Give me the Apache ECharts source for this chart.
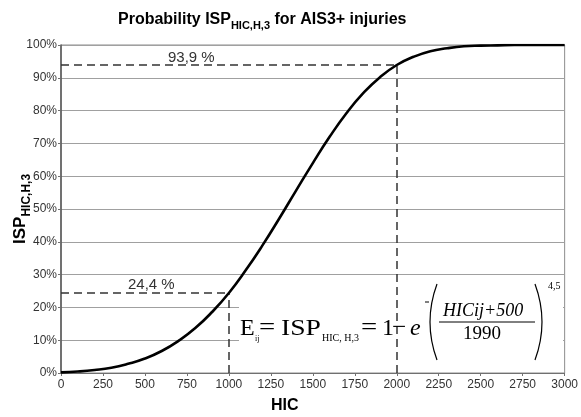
<!DOCTYPE html>
<html>
<head>
<meta charset="utf-8">
<script src="https://cdn.jsdelivr.net/npm/echarts@6/dist/echarts.min.js"></script>
<style>
html,body{margin:0;padding:0;background:#fff;}
#c{width:581px;height:417px;}
</style>
</head>
<body>
<div id="c"></div>
<script>
// HIC values (x) and probability ISP in percent (y)
const hic = [0,100,200,300,400,500,600,700,800,900,1000,1100,1200,1300,1400,1500,1600,1700,1800,1900,2000,2100,2200,2300,2400,2500,2600,2700,2800,2900,3000];
const isp = [0.2,0.45,0.9,1.6,2.8,4.4,6.7,9.8,13.7,18.6,24.4,31.3,38.9,47.1,55.6,64.0,72.0,79.2,85.3,90.2,93.9,96.4,98.1,99.0,99.6,99.8,99.9,100,100,100,100];
// annotated points
const markHic = [1000, 2000];
const markIsp = [24.4, 93.9];
const markText = ['24,4 %', '93,9 %'];
// axis ticks
const xTicks = [0,250,500,750,1000,1250,1500,1750,2000,2250,2500,2750,3000];
const yTicks = [0,10,20,30,40,50,60,70,80,90,100];

const chart = echarts.init(document.getElementById('c'), null, {renderer:'canvas'});
const sans = 'Liberation Sans, Arial, sans-serif';
const serif = 'Liberation Serif, Times New Roman, serif';

const pts = hic.map((h,i)=>[h,isp[i]]);
const mlData = [];
markHic.forEach((h,i)=>{
  mlData.push([{coord:[0,markIsp[i]]},{coord:[h,markIsp[i]]}]);
  mlData.push([{coord:[h,0]},{coord:[h,markIsp[i]]}]);
});

function ft(txt, x, y, size, extra){
  return Object.assign({type:'text',x:x,y:y,z:21,style:Object.assign({text:txt,fontFamily:serif,fontSize:size,fill:'#000',verticalAlign:'middle'}, extra && extra.style || {})}, extra && extra.el || {});
}

const option = {
  animation:false,
  backgroundColor:'#fff',
  grid:{left:61,right:15,top:45,bottom:44,show:true,borderColor:'#8c8c8c',borderWidth:1,backgroundColor:'transparent'},
  xAxis:{
    type:'value',min:xTicks[0],max:xTicks[xTicks.length-1],interval:xTicks[1]-xTicks[0],
    axisLine:{show:true,lineStyle:{color:'#707070',width:1}},
    axisTick:{show:true,length:3,lineStyle:{color:'#707070'}},
    axisLabel:{color:'#333',fontFamily:sans,fontSize:12,margin:6,formatter:v=>String(v)},
    splitLine:{show:false}
  },
  yAxis:{
    type:'value',min:yTicks[0],max:yTicks[yTicks.length-1],interval:yTicks[1]-yTicks[0],
    axisLine:{show:true,lineStyle:{color:'#555',width:1.5}},
    axisTick:{show:true,length:3,lineStyle:{color:'#707070'}},
    axisLabel:{color:'#333',fontFamily:sans,fontSize:12,margin:4,formatter:'{value}%'},
    splitLine:{show:true,lineStyle:{color:'#a0a0a0',width:1}}
  },
  series:[
    {type:'line',data:[],z:3,silent:true,
     markLine:{silent:true,symbol:['none','none'],animation:false,
       lineStyle:{type:[8,5],color:'#333',width:1.5},label:{show:false},data:mlData}},
    {type:'line',data:pts,smooth:true,showSymbol:false,z:10,
     lineStyle:{color:'#000',width:2.6}}
  ],
  graphic:[
    {type:'text',left:118,top:12,z:20,style:{
      rich:{a:{fontFamily:sans,fontWeight:'bold',fontSize:16,lineHeight:19,fill:'#000'},
            b:{fontFamily:sans,fontWeight:'bold',fontSize:11,lineHeight:23,fill:'#000',verticalAlign:'bottom'}},
      text:'{a|Probability ISP}{b|HIC,H,3}{a| for AIS3+ injuries}'}},
    {type:'text',x:7,y:244,rotation:Math.PI/2,z:20,style:{
      rich:{a:{fontFamily:sans,fontWeight:'bold',fontSize:17,lineHeight:21,fill:'#000'},
            b:{fontFamily:sans,fontWeight:'bold',fontSize:12,lineHeight:26,fill:'#000',verticalAlign:'bottom'}},
      text:'{a|ISP}{b|HIC,H,3}'}},
    {type:'text',x:271,y:398,z:20,style:{text:'HIC',fontFamily:sans,fontWeight:'bold',fontSize:16,fill:'#000'}},
    {type:'text',x:168,y:50,z:20,style:{text:markText[1],fontFamily:sans,fontSize:15,fill:'#333'}},
    {type:'text',x:128,y:277,z:20,style:{text:markText[0],fontFamily:sans,fontSize:15,fill:'#333'}},
    // formula box
    {type:'rect',shape:{x:239,y:276,width:324,height:93},style:{fill:'#fff'},z:5},
    ft('E',240,329,24),
    ft('ij',255,339,8),
    ft('=',259,328,23,{el:{scaleX:1.25}}),
    ft('ISP',281,329,24,{el:{scaleX:1.15}}),
    ft('HIC, H,3',322,338,10),
    ft('=',361,328,23,{el:{scaleX:1.25}}),
    ft('1',382,329,24),
    ft('−',392,328,23,{el:{scaleX:1.1}}),
    ft('e',410,329,24,{style:{fontStyle:'italic'}}),
    {type:'line',shape:{x1:425,y1:302,x2:429,y2:302},style:{stroke:'#000',lineWidth:1},z:21},
    {type:'bezierCurve',shape:{x1:437,y1:284,x2:437,y2:360,cpx1:423,cpy1:322},style:{stroke:'#000',lineWidth:1.2,fill:null},z:21},
    {type:'bezierCurve',shape:{x1:535,y1:284,x2:535,y2:360,cpx1:549,cpy1:322},style:{stroke:'#000',lineWidth:1.2,fill:null},z:21},
    ft('HICij+500',443,311,18,{style:{fontStyle:'italic'}}),
    {type:'line',shape:{x1:439,y1:322,x2:535,y2:322},style:{stroke:'#000',lineWidth:1},z:21},
    ft('1990',463,334,19),
    ft('4,5',548,286,10)
  ]
};
chart.setOption(option);
</script>
</body>
</html>
